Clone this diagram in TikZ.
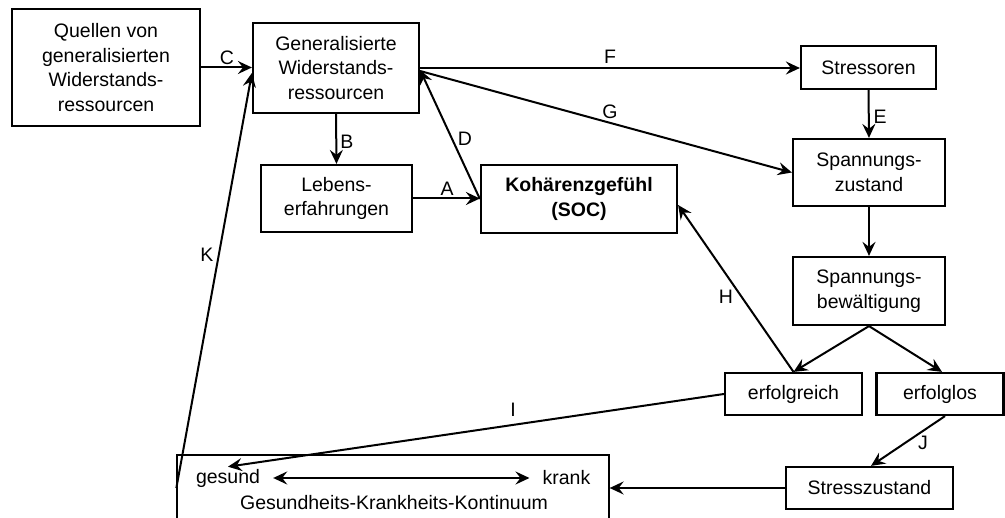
\documentclass[tikz,border=0pt]{standalone}
\usepackage{fontspec}
\setmainfont{Liberation Sans}
\usetikzlibrary{arrows.meta}
\begin{document}
\begin{tikzpicture}[x=1pt,y=-1pt,
  box/.style={draw, line width=2.2pt, align=center, inner sep=0pt, font=\fontsize{19.5}{24.5}\selectfont},
  conn/.style={line width=2pt, -{Stealth[length=14pt,width=13pt,inset=5pt]}},
  lbl/.style={font=\fontsize{19.5}{24}\selectfont, inner sep=0pt},
  txt/.style={font=\fontsize{19.5}{24}\selectfont, inner sep=2pt}]
\useasboundingbox (0,0) rectangle (1005,518);
% boxes
\node[box, minimum width=188pt, minimum height=117pt] (quellen) at (106,67.5) {Quellen von\\generalisierten\\Widerstands-\\ressourcen};
\node[box, minimum width=166pt, minimum height=90pt] (gen) at (336,68) {Generalisierte\\Widerstands-\\ressourcen};
\node[box, minimum width=151pt, minimum height=67pt] (lebens) at (336.5,198.5) {Lebens-\\erfahrungen};
\node[box, minimum width=196pt, minimum height=68pt, font=\fontsize{19.5}{24.5}\selectfont\bfseries] (koh) at (579,199) {Kohärenzgefühl\\(SOC)};
\node[box, minimum width=135pt, minimum height=43pt] (stressoren) at (868.5,67.5) {Stressoren};
\node[box, minimum width=152pt, minimum height=67pt] (spz) at (869,172.5) {Spannungs-\\zustand};
\node[box, minimum width=152pt, minimum height=68pt] (spb) at (869,291) {Spannungs-\\bewältigung};
\node[box, minimum width=137pt, minimum height=42pt] (erfr) at (793.5,394) {erfolgreich};
\node[box, minimum width=127pt, minimum height=42pt] (erfl) at (940,394) {erfolglos};
\node[box, minimum width=167pt, minimum height=42pt] (strz) at (869.5,488) {Stresszustand};
\node[draw, line width=1.3pt, minimum width=432pt, minimum height=66pt, inner sep=0pt] (ghk) at (393,488) {};
\node[txt] (gesund) at (228,478) {gesund};
\node[txt] (krank) at (566.5,478) {krank};
\node[txt] (kont) at (394,503) {Gesundheits-Krankheits-Kontinuum};
% connectors
\draw[conn] (quellen.east) -- (quellen.east -| gen.west);
\draw[conn] (gen.south) -- (lebens.north);
\draw[conn] (lebens.east) -- (lebens.east -| koh.west);
\draw[conn] (koh.west) -- ([yshift=-2pt]gen.east);
\draw[conn] (gen.east) -- (gen.east -| stressoren.west);
\draw[conn] ([yshift=-3pt]gen.east) -- (spz.west);
\draw[conn] (stressoren.south) -- (spz.north);
\draw[conn] (spz.south) -- (spb.north);
\draw[conn] (spb.south) -- (erfr.north);
\draw[conn] (spb.south) -- ([xshift=2pt]erfl.north);
\draw[conn] (erfr.north) -- ([yshift=-6pt]koh.east);
\draw[conn] (erfr.west) -- (gesund.north);
\draw[conn] ([xshift=5pt]erfl.south) -- ([xshift=1.5pt]strz.north);
\draw[conn] (strz.west) -- (ghk.east);
\draw[conn] (ghk.west) -- ([yshift=-5pt]gen.west);
\draw[line width=2pt, {Stealth[length=14pt,width=13pt,inset=5pt]}-{Stealth[length=14pt,width=13pt,inset=5pt]}, shorten <=11pt, shorten >=11pt] (gesund.east) -- (krank.west);
% labels
\node[lbl] (lC) at (227,58) {C};
\node[lbl] (lB) at (347,142) {B};
\node[lbl] (lA) at (447,189) {A};
\node[lbl] (lD) at (465,139) {D};
\node[lbl] (lF) at (610,57) {F};
\node[lbl] (lG) at (610,112) {G};
\node[lbl] (lE) at (880,117) {E};
\node[lbl] (lH) at (726,297) {H};
\node[lbl] (lI) at (513,410) {I};
\node[lbl] (lJ) at (923,443) {J};
\node[lbl] (lK) at (207,255) {K};
\end{tikzpicture}
\end{document}
